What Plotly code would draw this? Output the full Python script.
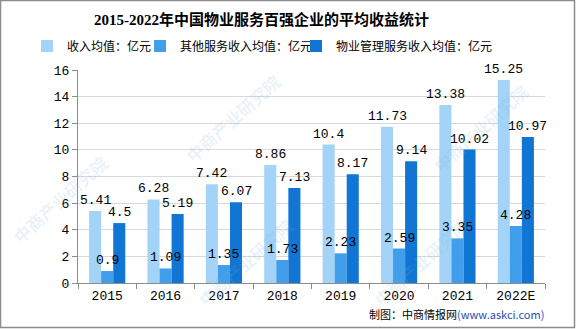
import plotly.graph_objects as go

# Data: average revenue of top-100 property service companies (亿元)
years = ["2015", "2016", "2017", "2018", "2019", "2020", "2021", "2022E"]
revenue_avg = [5.41, 6.28, 7.42, 8.86, 10.4, 11.73, 13.38, 15.25]
other_service_avg = [0.9, 1.09, 1.35, 1.73, 2.23, 2.59, 3.35, 4.28]
property_mgmt_avg = [4.5, 5.19, 6.07, 7.13, 8.17, 9.14, 10.02, 10.97]

series_names = ["收入均值：亿元", "其他服务收入均值：亿元", "物业管理服务收入均值：亿元"]
series_colors = ["#a3d4f7", "#409eea", "#1176d3"]
y_ticks = [0, 2, 4, 6, 8, 10, 12, 14, 16]

W, H = 576, 329
ML, MR, MT, MB = 78, 31, 70, 46
PW, PH = W - ML - MR, H - MT - MB
BARGAP = 0.38


def px_x(p):
    return (p - ML) / PW


def px_y(p):
    return (H - MB - p) / PH


mono = "Liberation Mono, DejaVu Sans Mono, monospace"
label_font = dict(family=mono, size=13, color="#000000")
legend_ids = ["legend", "legend2", "legend3"]
all_series = [revenue_avg, other_service_avg, property_mgmt_avg]

fig = go.Figure()
for name, vals, color, lg in zip(series_names, all_series, series_colors, legend_ids):
    fig.add_trace(go.Bar(
        x=years, y=vals, name=name, legend=lg,
        marker=dict(color=color, line=dict(width=0)),
    ))

# value labels as annotations so they sit above every bar layer;
# on a category axis the annotation x is the category index
bar_offset = (1 - BARGAP) / len(all_series)
annotations = []
for i, vals in enumerate(all_series):
    for j, v in enumerate(vals):
        annotations.append(dict(
            x=j + (i - 1) * bar_offset, y=v, xref="x", yref="y", text=f"{v:g}", showarrow=False,
            xanchor="center", yanchor="bottom", yshift=1,
            font=label_font,
        ))

annotations += [
    dict(text="2015-2022年中国物业服务百强企业的平均收益统计",
         xref="paper", yref="paper", x=px_x(261), y=px_y(19),
         xanchor="center", yanchor="middle", showarrow=False,
         font=dict(family="Liberation Serif, Noto Sans CJK SC", size=15, color="#000000", weight="bold")),
    dict(text="制图：中商情报网<span style='color:#1f4fb4'>(www.askci.com)</span>",
         xref="paper", yref="paper", x=px_x(546), y=px_y(314),
         xanchor="right", yanchor="middle", showarrow=False,
         font=dict(family="Noto Sans CJK SC", size=11, color="#000000")),
]

# faint diagonal watermark text
wm_positions = [(232, 118), (245, 262), (480, 128), (420, 262), (60, 200)]
wm_annotations = []
for wx, wy in wm_positions:
    wm_annotations.append(dict(
        text="中商产业研究院", xref="paper", yref="paper",
        x=px_x(wx), y=px_y(wy), xanchor="center", yanchor="middle",
        showarrow=False, textangle=-42,
        font=dict(family="Noto Sans CJK SC", size=17, color="rgba(120,170,220,0.16)", weight="bold"),
    ))

shapes = [
    # outer frame
    dict(type="rect", xref="paper", yref="paper",
         x0=px_x(0.5), x1=px_x(W - 1.5), y0=px_y(H - 1.5), y1=px_y(0.5),
         line=dict(color="#8c8c8c", width=1.5), layer="above"),
]

legend_style = dict(orientation="h", yanchor="middle", y=px_y(46), xanchor="left",
                    font=dict(family="Noto Sans CJK SC", size=12, color="#000000"),
                    itemwidth=30, bgcolor="rgba(0,0,0,0)", borderwidth=0)

fig.update_layout(
    width=W, height=H,
    margin=dict(l=ML, r=MR, t=MT, b=MB),
    paper_bgcolor="#ffffff", plot_bgcolor="#ffffff",
    barmode="group", bargap=BARGAP, bargroupgap=0,
    showlegend=True,
    legend=dict(legend_style, x=px_x(27)),
    legend2=dict(legend_style, x=px_x(140)),
    legend3=dict(legend_style, x=px_x(296)),
    xaxis=dict(type="category", categoryorder="array", categoryarray=years, range=[-0.5, len(years) - 0.5],
               showgrid=False, showline=True, linecolor="#8c8c8c", linewidth=1,
               ticks="outside", tickson="boundaries", ticklen=5, tickcolor="#8c8c8c",
               tickfont=dict(family=mono, size=13, color="#000000")),
    yaxis=dict(range=[0, 16], tickvals=y_ticks, showgrid=True, gridcolor="#d9d9d9", gridwidth=1,
               showline=True, linecolor="#8c8c8c", linewidth=1, zeroline=False,
               ticks="outside", ticklen=5, tickcolor="#8c8c8c",
               tickfont=dict(family=mono, size=13, color="#000000")),
    shapes=shapes,
    annotations=wm_annotations + annotations,
)

fig.write_html("out.html")
